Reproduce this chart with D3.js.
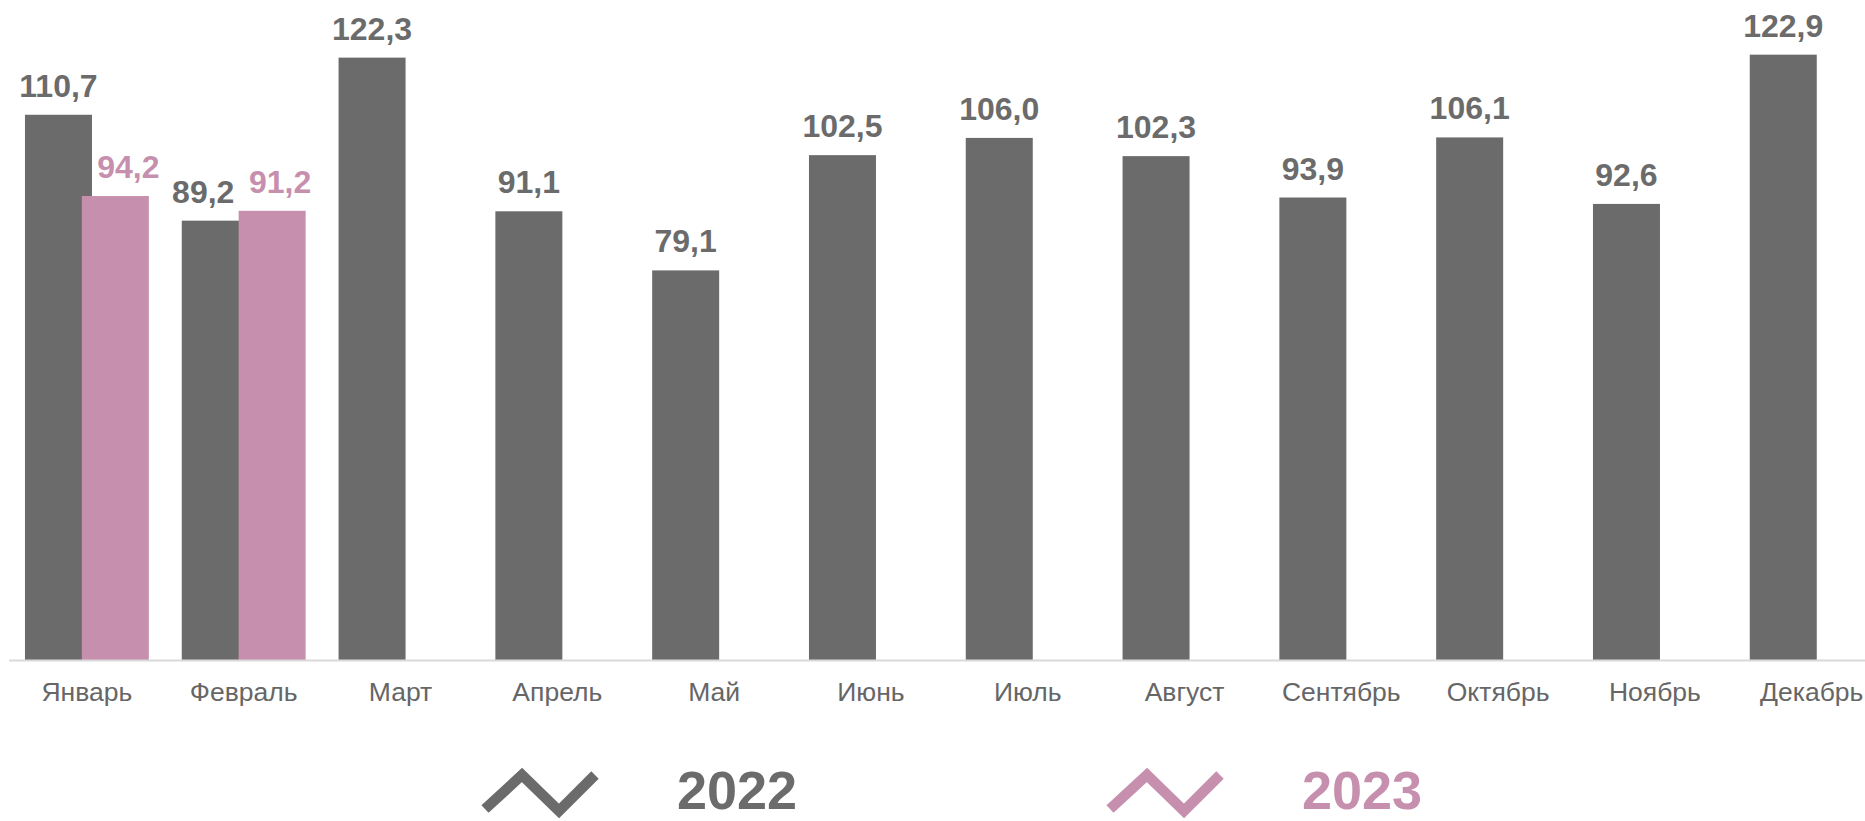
<!DOCTYPE html>
<html>
<head>
<meta charset="utf-8">
<script src="https://cdn.jsdelivr.net/npm/d3@7"></script>
<style>
    body { margin: 0; background: #fff; }
    svg { display: block; font-family: "Liberation Sans", Arial, sans-serif; }
</style>
</head>
<body>
<svg width="1865" height="821"></svg>
<script>
const months = ["Январь", "Февраль", "Март", "Апрель", "Май", "Июнь",
    "Июль", "Август", "Сентябрь", "Октябрь", "Ноябрь", "Декабрь"];
const years = ["2022", "2023"];
const values2022 = [110.7, 89.2, 122.3, 91.1, 79.1, 102.5, 106.0, 102.3, 93.9, 106.1, 92.6, 122.9];
const values2023 = [94.2, 91.2];

const colors = {"2022": "#6b6b6b", "2023": "#c78fae"};
// small manual shifts of some value labels so they don't collide
const labelShift = {"2022-1": -12, "2023-0": 13, "2023-1": 8};

const svg = d3.select("svg");
const baseY = 660;
const step = 156.8;
const barW = 67;

const x = d3.scaleBand()
    .domain(months)
    .range([8.5, 8.5 + step * months.length])
    .paddingInner(0.21)
    .paddingOuter(0.105);

const y = d3.scaleLinear().domain([0, 134]).range([baseY, 0]);

// one row per bar
let bars = [];
years.forEach((yr) => {
    const vals = yr === "2022" ? values2022 : values2023;
    vals.forEach((v, i) => {
        bars.push({year: yr, month: months[i], value: v, key: yr + "-" + i});
    });
});

function barX(d) {
    return d.year === "2022" ? x(d.month) : x(d.month) + x.bandwidth() - barW;
}

svg.append("g")
    .selectAll("rect")
    .data(bars)
    .enter()
    .append("rect")
    .attr("x", barX)
    .attr("y", (d) => y(d.value))
    .attr("width", barW)
    .attr("height", (d) => baseY - y(d.value))
    .attr("fill", (d) => colors[d.year]);

svg.append("g")
    .selectAll("text")
    .data(bars)
    .enter()
    .append("text")
    .attr("x", (d) => barX(d) + barW / 2 + (labelShift[d.key] || 0))
    .attr("y", (d) => y(d.value) - 18)
    .attr("text-anchor", "middle")
    .attr("font-size", "32px")
    .attr("font-weight", "bold")
    .attr("fill", (d) => colors[d.year])
    .text((d) => d3.format(".1f")(d.value).replace(".", ","));

// category axis
const axis = svg.append("g")
    .attr("transform", `translate(0, ${baseY})`)
    .call(d3.axisBottom(x).tickSize(0).tickPadding(22).tickSizeOuter(0));

axis.select(".domain")
    .attr("stroke", "#d9d9d9")
    .attr("stroke-width", 2);

axis.selectAll("text")
    .attr("font-family", "\"Liberation Sans\", Arial, sans-serif")
    .attr("font-size", "26.5px")
    .attr("fill", "#666");

// legend
const legend = svg.append("g");
years.forEach((yr, i) => {
    const g = legend.append("g").attr("transform", `translate(${i * 625}, 0)`);
    g.append("polyline")
        .attr("points", "485,809 522,775 559,811 595,775")
        .attr("fill", "none")
        .attr("stroke", colors[yr])
        .attr("stroke-width", 10.5)
        .attr("stroke-linejoin", "miter");
    g.append("text")
        .attr("x", 677)
        .attr("y", 809)
        .attr("font-size", "54px")
        .attr("font-weight", "bold")
        .attr("fill", colors[yr])
        .text(yr);
});
</script>
</body>
</html>
